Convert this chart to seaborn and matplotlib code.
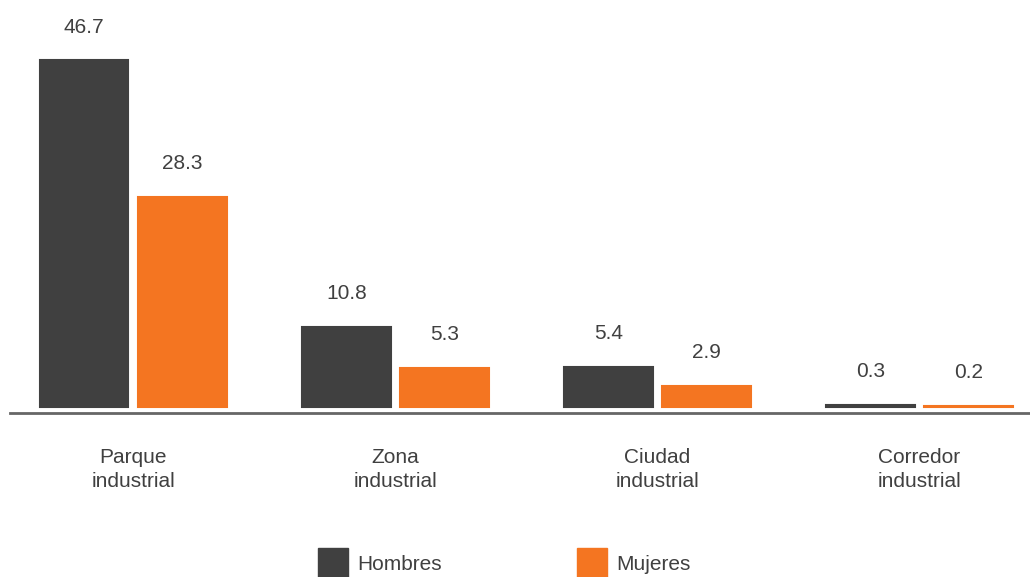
import matplotlib
matplotlib.use("Agg")
import matplotlib.pyplot as plt
import pandas as pd
import seaborn as sns

categories = ["Parque\nindustrial", "Zona\nindustrial", "Ciudad\nindustrial", "Corredor\nindustrial"]
series = ["Hombres", "Mujeres"]
hombres = [46.7, 10.8, 5.4, 0.3]
mujeres = [28.3, 5.3, 2.9, 0.2]
colors = ["#404040", "#F47521"]

sns.set_style("white")
plt.rcParams["font.family"] = ["Liberation Sans", "DejaVu Sans"]
plt.rcParams["text.color"] = "#404040"
FS = 15

df = pd.DataFrame({
    "categoria": categories * 2,
    "sexo": [series[0]] * 4 + [series[1]] * 4,
    "valor": hombres + mujeres,
})

fig = plt.figure(figsize=(10.3, 5.77), dpi=100)
ax = fig.add_axes([10 / 1030, (577 - 413) / 577, 1020 / 1030, 413 / 577])
sns.barplot(data=df, x="categoria", y="valor", hue="sexo", palette=colors,
            width=0.75, gap=0.1, ax=ax, legend=False, saturation=1)

# thin edge in the bar colour so the tiny bars stay visible, as in the original
for cont, c in zip(ax.containers, colors):
    for bar in cont:
        bar.set_edgecolor(c)
        bar.set_linewidth(1.5)
    ax.bar_label(cont, fmt="%.1f", padding=17, fontsize=FS, color="#404040")

ax.set_xlim(-0.471, 3.422)
ax.set_ylim(-0.8, 54.8)
ax.set_xlabel("")
ax.set_ylabel("")
ax.set_yticks([])
ax.tick_params(axis="x", length=0, pad=25, labelsize=FS, labelcolor="#404040")
for lab in ax.get_xticklabels():
    lab.set_linespacing(1.35)
for s in ["top", "right", "left"]:
    ax.spines[s].set_visible(False)
ax.spines["bottom"].set_color("#666666")
ax.spines["bottom"].set_linewidth(2)

handles = [plt.Rectangle((0, 0), 1, 1, color=c) for c in colors]
fig.legend(handles, series, loc="center", bbox_to_anchor=(504 / 1030, 1 - 563 / 577),
           ncol=2, frameon=False, fontsize=FS, handlelength=1.44, handleheight=1.8,
           handletextpad=0.43, columnspacing=6.5, labelcolor="#404040")

fig.savefig("out.png", dpi=100)
